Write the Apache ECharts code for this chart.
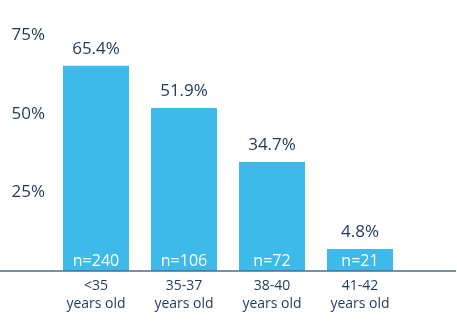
<!DOCTYPE html>
<html><head><meta charset="utf-8">
<script src="https://cdn.jsdelivr.net/npm/echarts@6/dist/echarts.min.js"></script>
<style>html,body{margin:0;padding:0;background:#fff}#c{width:457px;height:327px}</style>
</head><body><div id="c"></div>
<script>
const categories = ['<35\nyears old', '35-37\nyears old', '38-40\nyears old', '41-42\nyears old'];
const values = [65.4, 51.9, 34.7, 4.8];
const counts = [240, 106, 72, 21];
const yTicks = [0, 25, 50, 75];

const navy = '#1b3a5e';
const blue = '#3dbae9';
const font = 'Open Sans';

const chart = echarts.init(document.getElementById('c'), null, {renderer: 'canvas'});
chart.setOption({
  animation: false,
  grid: {left: 52, right: 53, top: 35.5, bottom: 56, containLabel: false},
  xAxis: {
    type: 'category', data: categories,
    axisLine: {show: false}, axisTick: {show: false},
    axisLabel: {color: navy, fontFamily: font, fontSize: 14, lineHeight: 18, margin: 6}
  },
  yAxis: {
    type: 'value', min: yTicks[0], max: yTicks[yTicks.length - 1], interval: 25,
    splitLine: {show: false}, axisLine: {show: false}, axisTick: {show: false},
    axisLabel: {color: navy, fontFamily: font, fontSize: 17, margin: 7,
      formatter: v => v === 0 ? '' : v + '%'}
  },
  graphic: [{type: 'line', shape: {x1: 0, y1: 271, x2: 456, y2: 271},
    style: {stroke: '#4b6b8c', lineWidth: 1.5}, z: 10}],
  series: [
    {
      type: 'bar', data: values, barCategoryGap: '25%', barMinHeight: 22,
      itemStyle: {color: blue},
      label: {show: true, position: 'top', distance: 8, color: navy, fontFamily: font, fontSize: 17,
        formatter: p => p.value.toFixed(1) + '%'}
    },
    {
      type: 'bar', data: values, barGap: '-100%', barCategoryGap: '25%', barMinHeight: 22,
      itemStyle: {color: 'rgba(0,0,0,0)'},
      label: {show: true, position: 'insideBottom', distance: 2, color: '#ffffff', fontFamily: font, fontSize: 16,
        formatter: p => 'n=' + counts[p.dataIndex]}
    }
  ]
});
</script></body></html>
